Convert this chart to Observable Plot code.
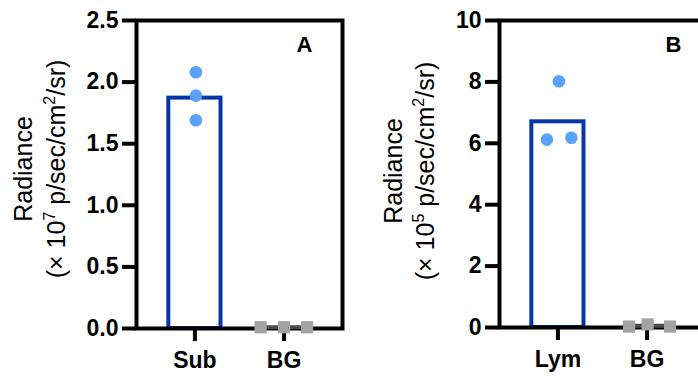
<!DOCTYPE html>
<html>
<head>
<meta charset="utf-8">
<script src="https://cdn.jsdelivr.net/npm/d3@7"></script>
<script src="https://cdn.jsdelivr.net/npm/@observablehq/plot@0.6"></script>
<style>
  html, body { margin: 0; padding: 0; background: white; }
  #wrap { position: relative; width: 698px; height: 378px; overflow: hidden; background: white; }
  #pa { position: absolute; top: 0; left: 0; width: 349px; height: 378px; }
  #pb { position: absolute; top: 0; left: 349px; width: 360px; height: 378px; }
  #wrap svg { max-width: none !important; display: block; }
</style>
</head>
<body>
<div id="wrap"><div id="pa"></div><div id="pb"></div></div>
<script>
// ---------- data ----------
const categoriesA = ["Sub", "BG"];
const barValuesA = [1.87, 0.01];
const subValues = [2.08, 1.89, 1.69];
const bgValuesA = [0.01, 0.01, 0.01];
const yTicksA = [0, 0.5, 1.0, 1.5, 2.0, 2.5];
const exponentA = "7";
const panelA = "A";

const categoriesB = ["Lym", "BG"];
const barValuesB = [6.7, 0.06];
const lymValues = [6.12, 8.02, 6.18];
const bgValuesB = [0.03, 0.1, 0.03];
const yTicksB = [0, 2, 4, 6, 8, 10];
const exponentB = "5";
const panelB = "B";

// ---------- styles ----------
const FONT = "'Liberation Sans', Arial, Helvetica, sans-serif";
const BAR_BLUE = "#0536a8";
const DOT_BLUE = "#58a3f7";
const GRAY = "#a2a2a2";

function panel(cfg) {
  const bars = cfg.cats.map((c, i) => ({cat: c, value: cfg.bars[i]}));
  const pts = cfg.pts.map(v => ({cat: cfg.cats[0], value: v}));
  const bg = cfg.bg.map(v => ({cat: cfg.cats[1], value: v}));
  const marks = [
    Plot.barY([bars[0]], {x: "cat", y: "value", fill: "white", stroke: BAR_BLUE, strokeWidth: 4, insetLeft: 2, insetRight: 2}),
    Plot.frame({stroke: "black", strokeWidth: 4}),
    Plot.axisY(cfg.ticks, {tickSize: 14, tickPadding: 4, strokeWidth: 4, tickFormat: cfg.fmt, fontSize: 23, fontWeight: "bold", label: null, stroke: "black"}),
    Plot.axisX({tickSize: 13, tickPadding: 10, strokeWidth: 4, fontSize: 23, fontWeight: "bold", label: null, stroke: "black"}),
    ...pts.map((p, i) => Plot.dot([p], {x: "cat", y: "value", r: 6.3, fill: DOT_BLUE, dx: cfg.ptDx[i]})),
    Plot.tickY([bars[1]], {x: "cat", y: "value", stroke: "#4a4a4a", strokeWidth: 4, insetLeft: 6, insetRight: 6}),
    ...bg.map((p, i) => Plot.dot([p], {x: "cat", y: "value", r: 6.9, symbol: "square", fill: GRAY, dx: cfg.bgDx[i]})),
    Plot.text([cfg.letter], {frameAnchor: "top-right", dx: cfg.letterDx, dy: 24, text: d => d, textAnchor: "middle", lineAnchor: "middle", fontSize: 22, fontWeight: "bold", fill: "black"})
  ];
  const svg = Plot.plot({
    width: cfg.width,
    height: 378,
    marginLeft: cfg.ml,
    marginRight: cfg.width - cfg.ml - 206,
    marginTop: 20,
    marginBottom: cfg.mb,
    x: {type: "band", domain: cfg.cats, paddingInner: 0.37, paddingOuter: 0.34, round: false},
    y: {domain: cfg.domain},
    style: {fontFamily: FONT, fontSize: "22px", color: "black", background: "white", overflow: "visible", maxWidth: "none"},
    marks
  });
  // two-line rotated y-axis title with superscripts
  const s = d3.select(svg);
  const cy = cfg.titleY;
  s.append("text")
    .attr("transform", `translate(${cfg.t1},${cy}) rotate(-90)`)
    .attr("text-anchor", "middle").attr("font-family", FONT).attr("font-size", 25).attr("fill", "black")
    .text("Radiance");
  const t2 = s.append("text")
    .attr("transform", `translate(${cfg.t2},${cy}) rotate(-90)`)
    .attr("text-anchor", "middle").attr("font-family", FONT).attr("font-size", 25).attr("fill", "black");
  t2.append("tspan").text("(× 10");
  t2.append("tspan").attr("font-size", 16).attr("dy", -10).text(cfg.exp);
  t2.append("tspan").attr("dy", 10).text(" p/sec/cm");
  t2.append("tspan").attr("font-size", 16).attr("dy", -10).text("2");
  t2.append("tspan").attr("dy", 10).text("/sr)");
  return svg;
}

document.getElementById("pa").appendChild(panel({
  cats: categoriesA, bars: barValuesA, pts: subValues, bg: bgValuesA, ticks: yTicksA,
  fmt: ".1f", exp: exponentA, letter: panelA, domain: [0, 2.5],
  width: 349, ml: 136, mb: 50, ptDx: [1, 1, 1], bgDx: [-23.5, 0, 23],
  letterDx: -38, titleY: 169, t1: 32, t2: 65
}));
document.getElementById("pb").appendChild(panel({
  cats: categoriesB, bars: barValuesB, pts: lymValues, bg: bgValuesB, ticks: yTicksB,
  fmt: "d", exp: exponentB, letter: panelB, domain: [0, 10],
  width: 360, ml: 150, mb: 51, ptDx: [-11, 1, 13.5], bgDx: [-18, 0.5, 23],
  letterDx: -32, titleY: 171, t1: 53, t2: 85
}));
</script>
</body>
</html>
